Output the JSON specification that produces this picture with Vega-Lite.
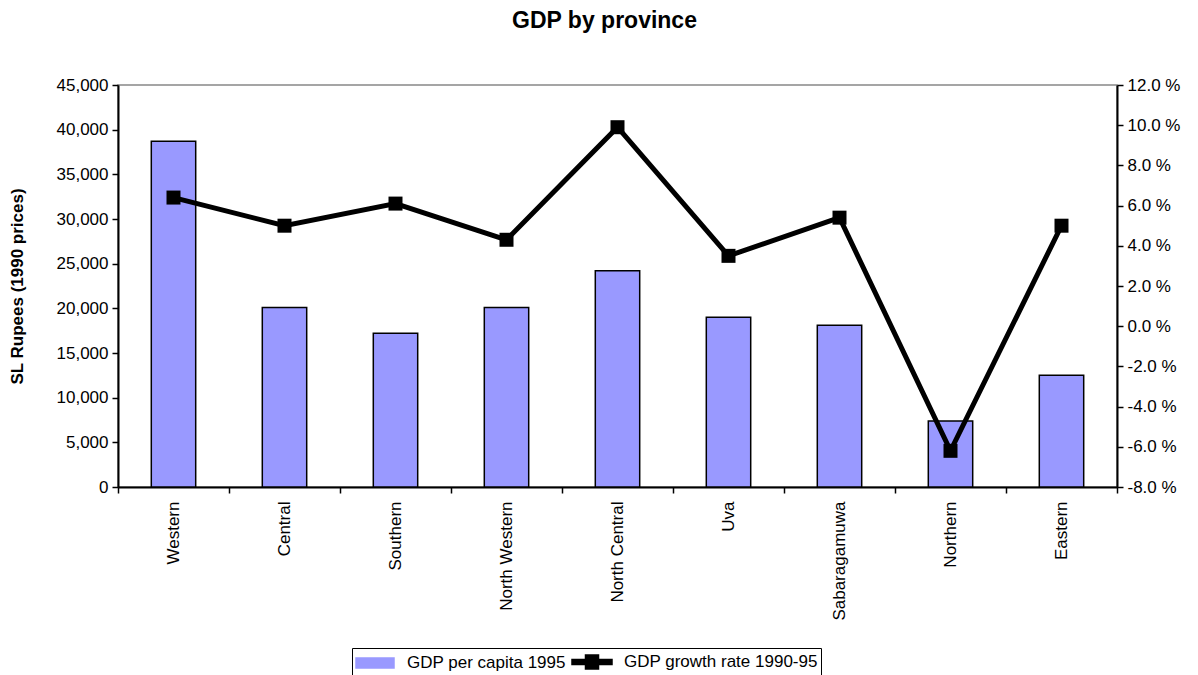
{
  "$schema": "https://vega.github.io/schema/vega-lite/v6.json",
  "width": 999,
  "height": 402,
  "autosize": {"type": "none"},
  "padding": {"left": 118, "top": 85, "right": 81, "bottom": 188},
  "background": "white",
  "config": {
    "font": "Liberation Sans",
    "view": {"stroke": "#888888", "strokeWidth": 1.5},
    "axis": {"labelColor": "black", "titleColor": "black", "domainColor": "black", "tickColor": "black", "domainWidth": 2, "tickWidth": 1.5, "grid": false, "labelFont": "Liberation Sans", "titleFont": "Liberation Sans"},
    "legend": {"orient": "none", "legendX": 234, "legendY": 563, "direction": "horizontal", "title": null,
      "strokeColor": "black", "padding": 3, "labelFontSize": 17, "labelColor": "black", "labelLimit": 400, "symbolSize": 400,
      "symbolOffset": 9, "labelOffset": 21, "columnPadding": 3, "symbolStrokeColor": "black", "symbolStrokeWidth": 1.5}
  },
  "title": {"text": "GDP by province", "fontSize": 23, "fontWeight": "bold", "font": "Liberation Sans", "color": "black", "anchor": "middle", "dx": -13, "offset": 43},
  "data": {"values": [
    {"province": "Western", "gdp": 38700, "growth": 6.4},
    {"province": "Central", "gdp": 20100, "growth": 5.0},
    {"province": "Southern", "gdp": 17200, "growth": 6.1},
    {"province": "North Western", "gdp": 20100, "growth": 4.3},
    {"province": "North Central", "gdp": 24200, "growth": 9.9},
    {"province": "Uva", "gdp": 19000, "growth": 3.5},
    {"province": "Sabaragamuwa", "gdp": 18100, "growth": 5.4},
    {"province": "Northern", "gdp": 7400, "growth": -6.2},
    {"province": "Eastern", "gdp": 12500, "growth": 5.0}
  ]},
  "encoding": {
    "x": {"field": "province", "type": "nominal", "sort": null,
      "scale": {"paddingInner": 0, "paddingOuter": 0},
      "axis": {"title": null, "labelAngle": 270, "labelFontSize": 17, "labelPadding": 8, "tickBand": "extent", "tickSize": 6, "labelBaseline": "middle", "labelAlign": "right"}}
  },
  "layer": [
    {
      "mark": {"type": "bar", "width": {"band": 0.4}, "stroke": "black", "strokeWidth": 1.5},
      "encoding": {
        "y": {"field": "gdp", "type": "quantitative",
          "scale": {"domain": [0, 45000]},
          "axis": {"values": [0, 5000, 10000, 15000, 20000, 25000, 30000, 35000, 40000, 45000], "labelExpr": "format(datum.value, ',.0f')", "labelFontSize": 17, "tickSize": 6, "labelPadding": 4, "title": "SL Rupees (1990 prices)", "titleFontSize": 17, "titleFontWeight": "bold", "titleX": -92}},
        "color": {"datum": "GDP per capita 1995", "type": "nominal",
          "scale": {"domain": ["GDP per capita 1995", "GDP growth rate 1990-95"], "range": ["#9999ff", "black"]},
          "legend": {
            "symbolStrokeColor": "black", "symbolStrokeWidth": 1.5,
            "encode": {"symbols": {"update": {
              "shape": {"signal": "datum.value === 'GDP per capita 1995' ? 'M-1.9,-0.5H1.9V0.5H-1.9Z' : 'M-2,-0.25H2V0.25H-2Z M-0.65,-0.7H0.65V0.7H-0.65Z'"},
              "fill": {"signal": "datum.value === 'GDP per capita 1995' ? '#9999ff' : 'black'"},
              "stroke": {"value": "black"},
              "strokeWidth": {"value": 1.5},
              "opacity": {"value": 1},
              "fillOpacity": {"value": 1},
              "strokeOpacity": {"value": 1}
            }}}}}
      }
    },
    {
      "mark": {"type": "line", "strokeWidth": 5, "point": {"filled": true, "shape": "square", "size": 196, "opacity": 1}},
      "encoding": {
        "y": {"field": "growth", "type": "quantitative",
          "scale": {"domain": [-8, 12]},
          "axis": {"orient": "right", "values": [-8, -6, -4, -2, 0, 2, 4, 6, 8, 10, 12], "labelExpr": "(datum.value < 0 ? '-' : '') + format(abs(datum.value), '.1f') + ' %'", "labelFontSize": 17, "tickSize": 6, "labelPadding": 4, "title": null}},
        "color": {"datum": "GDP growth rate 1990-95", "type": "nominal",
          "legend": {
            "symbolStrokeColor": "black", "symbolStrokeWidth": 1.5,
            "encode": {"symbols": {"update": {
              "shape": {"signal": "datum.value === 'GDP per capita 1995' ? 'M-1.9,-0.5H1.9V0.5H-1.9Z' : 'M-2,-0.25H2V0.25H-2Z M-0.65,-0.7H0.65V0.7H-0.65Z'"},
              "fill": {"signal": "datum.value === 'GDP per capita 1995' ? '#9999ff' : 'black'"},
              "stroke": {"value": "black"},
              "strokeWidth": {"value": 1.5},
              "opacity": {"value": 1},
              "fillOpacity": {"value": 1},
              "strokeOpacity": {"value": 1}
            }}}}}
      }
    }
  ],
  "resolve": {"scale": {"y": "independent"}}
}
